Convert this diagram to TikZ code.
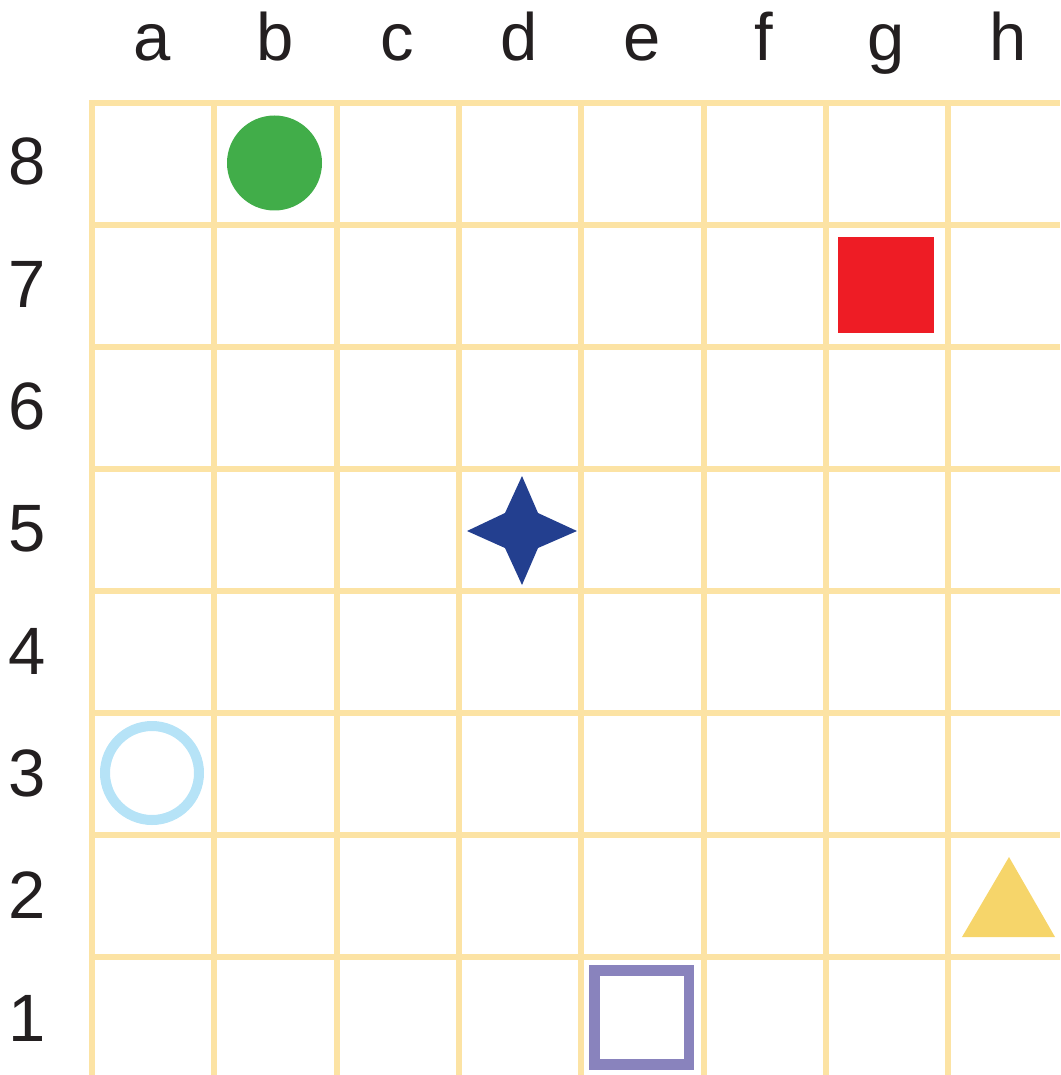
\documentclass[tikz,border=0pt]{standalone}
\usepackage{fontspec}
\setmainfont{Liberation Sans}
\definecolor{gridc}{HTML}{FCE3A4}
\definecolor{txt}{HTML}{231F20}
\definecolor{greenc}{HTML}{41AD49}
\definecolor{redc}{HTML}{EE1C25}
\definecolor{starc}{HTML}{233F8F}
\definecolor{purplec}{HTML}{8983BD}
\definecolor{yellowc}{HTML}{F6D56A}
\definecolor{bluec}{HTML}{B6E3F7}
\begin{document}
\begin{tikzpicture}[x=1pt,y=-1pt,
  lbl/.style={anchor=base,inner sep=0pt,text=txt,font=\fontsize{67}{80}\selectfont},
  gridline/.style={draw=gridc,line width=6pt}]
\useasboundingbox (0,0) rectangle (1060,1075);
% grid
\foreach \i in {0,...,7} {
  \draw[gridline] ({92+122.3*\i},100) -- ({92+122.3*\i},1075);
  \draw[gridline] (89,{103+122*\i}) -- (1060,{103+122*\i});
}
% column labels
\foreach \l [count=\i from 0] in {a,b,c,d,e,f,g,h} {
  \node[lbl] (col\l) at ({152.5+122.3*\i},61) {\l};
}
% row labels
\foreach \r [count=\i from 0] in {8,7,6,5,4,3,2,1} {
  \node[lbl] (row\r) at (27.5,{185+122.3*\i}) {\r};
}
% shapes
\fill[greenc] (274.5,163) circle (47.5);
\fill[redc] (838,237) rectangle (934,333);
\fill[starc] (522,476) -- (538,513) -- (577,531) -- (538,548) -- (522,585) -- (505,548) -- (467,531) -- (505,513) -- cycle;
\draw[bluec,line width=10pt] (152,773) circle (47);
\draw[purplec,line width=10.5pt] (594.5,970.5) rectangle (689,1064.5);
\fill[yellowc] (1009,857) -- (1055,937) -- (962,937) -- cycle;
\end{tikzpicture}
\end{document}
